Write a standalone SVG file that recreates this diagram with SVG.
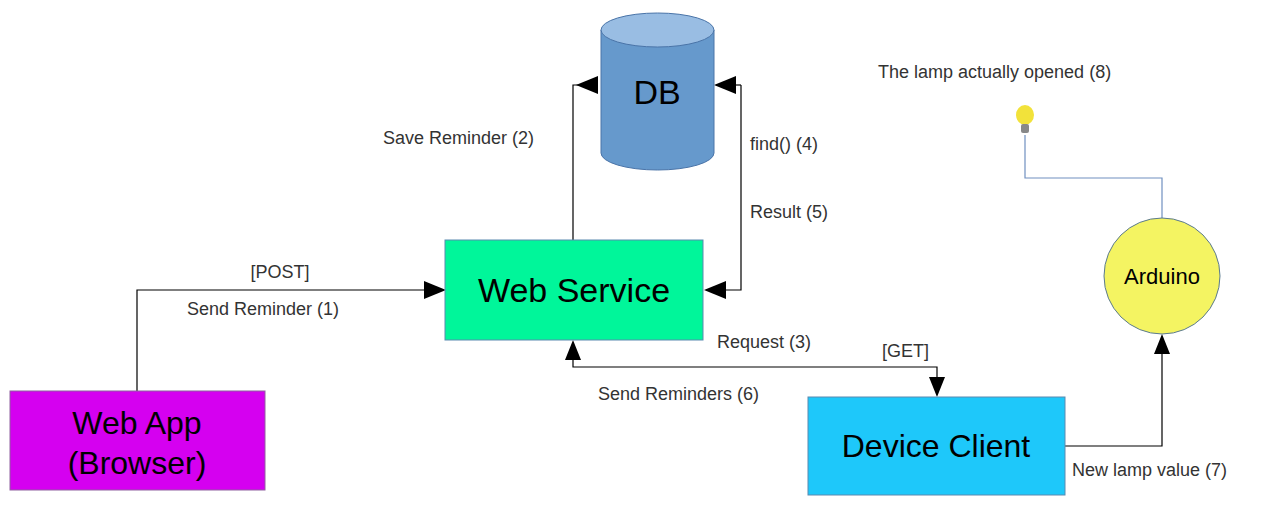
<svg xmlns="http://www.w3.org/2000/svg" width="1272" height="524" viewBox="0 0 1272 524">
<defs>
<marker id="ah" viewBox="0 0 10 10" refX="10" refY="5" markerWidth="10" markerHeight="10" markerUnits="userSpaceOnUse" orient="auto"><path d="M0,0 L10,5 L0,10 z" fill="#000"/></marker>
</defs>
<style>
.lbl{font-family:"Liberation Sans",Arial,sans-serif;font-size:18px;fill:#333}
.nt{font-family:"Liberation Sans",Arial,sans-serif;fill:#000;text-anchor:middle}
.c{fill:none;stroke:#000;stroke-width:1.2}
</style>
<rect width="1272" height="524" fill="#fff"/>
<g id="connectors">
<path class="c" d="M573,240 V85 H598" marker-end="url(#ah)" style="marker-end:none"/>
<path d="M598,85 l-22,-9 v18 z" fill="#000" transform="rotate(180 587 85)"/>
<path class="c" d="M741,85 H716"/>
<path d="M714,85 l22,-9 v18 z" fill="#000"/>
<path class="c" d="M741,85 V290 H706"/>
<path d="M704,290 l22,-9 v18 z" fill="#000"/>
<path class="c" d="M137,391 V290 H424"/>
<path d="M446,290 l-22,-9 v18 z" fill="#000"/>
<path class="c" d="M573,360 V367 H937 V380"/>
<path d="M573,340 l-8,20 h16 z" fill="#000"/>
<path d="M937,397 l-8,-20 h16 z" fill="#000"/>
<path class="c" d="M1065,446 H1162 V354"/>
<path d="M1162,334 l-8,20 h16 z" fill="#000"/>
<path d="M1025,135 V178 H1162 V218" fill="none" stroke="#7090c0" stroke-width="1.2"/>
</g>
<g id="db">
<path d="M601,30 V153 A56.5,17 0 0 0 714,153 V30" fill="#6699cc" stroke="#4a74a8"/>
<ellipse cx="657.5" cy="30" rx="56.5" ry="17" fill="#99bde3" stroke="#4a74a8"/>
<text class="nt" x="657" y="104" font-size="34">DB</text>
</g>
<g id="web-service">
<rect x="445" y="240" width="258" height="100" fill="#00f69a" stroke="#5a8ab0"/>
<text class="nt" x="574" y="302" font-size="34">Web Service</text>
</g>
<g id="web-app">
<rect x="10" y="391" width="255" height="99" fill="#d500f0" stroke="#9060a0"/>
<text class="nt" x="137" y="434" font-size="32">Web App</text>
<text class="nt" x="137" y="474" font-size="32">(Browser)</text>
</g>
<g id="device-client">
<rect x="808" y="397" width="257" height="98" fill="#1ec8fa" stroke="#5a8ab0"/>
<text class="nt" x="936" y="457" font-size="32">Device Client</text>
</g>
<g id="arduino">
<circle cx="1162" cy="276" r="58" fill="#f4f462" stroke="#5a7a90"/>
<text class="nt" x="1162" y="284" font-size="22">Arduino</text>
</g>
<g id="lamp">
<ellipse cx="1025" cy="115" rx="9" ry="10" fill="#f2e23a"/>
<rect x="1021" y="124" width="8" height="9" rx="2" fill="#888"/>
</g>
<g id="labels">
<text class="lbl" x="383" y="144">Save Reminder (2)</text>
<text class="lbl" x="750" y="150">find() (4)</text>
<text class="lbl" x="750" y="218">Result (5)</text>
<text class="lbl" x="280" y="278" text-anchor="middle">[POST]</text>
<text class="lbl" x="187" y="315">Send Reminder (1)</text>
<text class="lbl" x="717" y="348">Request (3)</text>
<text class="lbl" x="882" y="357">[GET]</text>
<text class="lbl" x="598" y="400">Send Reminders (6)</text>
<text class="lbl" x="1072" y="476">New lamp value (7)</text>
<text class="lbl" x="878" y="78">The lamp actually opened (8)</text>
</g>
</svg>
